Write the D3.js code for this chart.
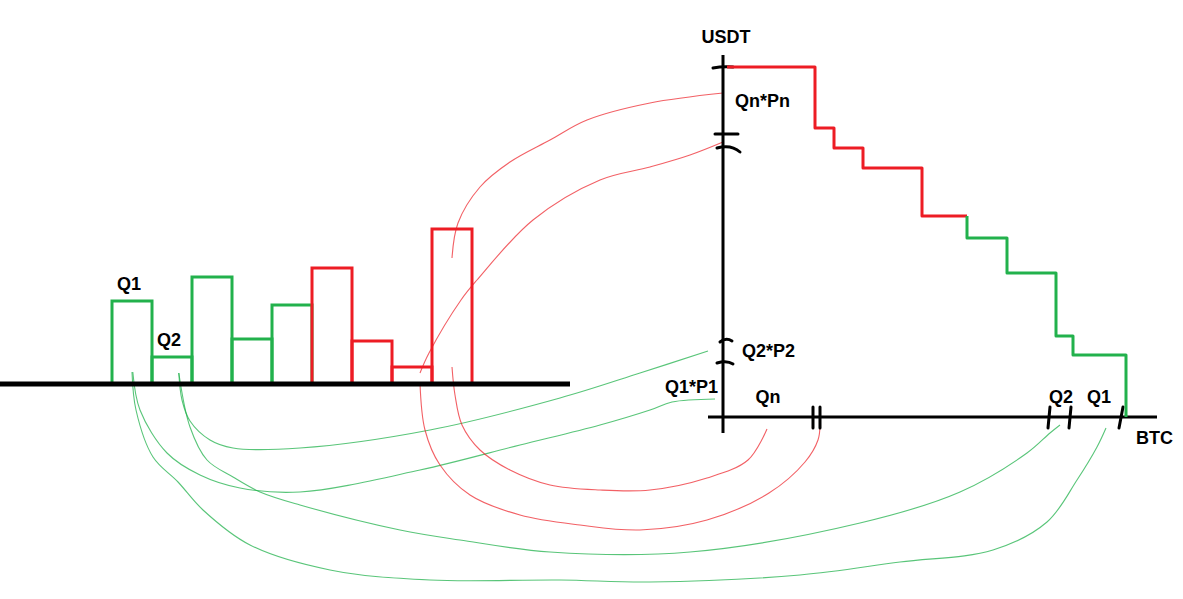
<!DOCTYPE html>
<html>
<head>
<meta charset="utf-8">
<script src="https://cdn.jsdelivr.net/npm/d3@7"></script>
<style>
  html, body { margin: 0; padding: 0; background: #fff; }
  svg { display: block; }
  text {
    font-family: 'Liberation Sans', Arial, sans-serif;
    font-weight: bold;
    font-size: 18px;
    fill: #000;
  }
</style>
</head>
<body>
<div id="chart"></div>
<script>
// --- order book levels (left sketch) ---
const quantities = [8.3, 2.7, 10.7, 4.5, 7.9, 11.6, 4.3, 1.7, 15.5];
const sides = ['bid', 'bid', 'bid', 'bid', 'bid', 'ask', 'ask', 'ask', 'ask'];
const barLabels = ['Q1', 'Q2', '', '', '', '', '', '', 'Qn'];

// --- cumulative BTC / USDT curve (right sketch) ---
const redBtc = [0.04, 0.92, 1.11, 1.40, 1.99, 2.44];
const redUsdt = [350, 289, 269, 249, 201, 201];
const greenBtc = [2.44, 2.44, 2.84, 3.33, 3.50, 4.03];
const greenUsdt = [201, 179, 144, 81, 62, 0];

// axis marks
const usdtTicks = [350, 283, 269, 77, 55];
const btcTicks = [0.90, 0.97, 3.26, 3.47, 3.98];
const usdtLabels = [
  { text: 'Qn*Pn', v: 316 },
  { text: 'Q2*P2', v: 66 },
  { text: 'Q1*P1', v: 30 },
];
const btcLabels = [
  { text: 'Qn', v: 0.45 },
  { text: 'Q2', v: 3.38 },
  { text: 'Q1', v: 3.76 },
];

// links from a bar to the axis mark it becomes
const linkBars = [1, 0, 1, 0, 8, 7, 8, 7];
const linkFrom = [1.1, 1.2, 1.1, 1.2, 12.6, 1.1, 1.7, 0.1];
const linkAxis = ['y', 'y', 'x', 'x', 'y', 'y', 'x', 'x'];
const linkTarget = [66, 18, 3.37, 3.83, 324, 275, 0.44, 0.97];

const colors = { bid: '#22b14c', ask: '#ed1c24' };

const W = 1183, H = 599;

const svg = d3.select('#chart')
  .append('svg')
  .attr('width', W)
  .attr('height', H);

// ---------- left: bars ----------
const xBar = d3.scaleBand()
  .domain(d3.range(quantities.length))
  .range([112, 472])
  .paddingInner(0);

const yBar = d3.scaleLinear().domain([0, 10]).range([384, 284]);

// hand-drawn routes for the thin connector strokes
const linkRoutes = [
  [[182, 400], [190, 421], [210, 440], [233, 448], [300, 448], [430, 430], [560, 398], [640, 373]],
  [[140, 410], [167, 453], [200, 475], [240, 488], [300, 492], [420, 470], [520, 445], [600, 425], [650, 410], [672, 402]],
  [[190, 427], [207, 460], [233, 477], [260, 492], [300, 505], [400, 530], [460, 540], [550, 552], [690, 552], [860, 523], [960, 492], [1027, 453], [1050, 433]],
  [[136, 410], [153, 457], [178, 482], [203, 510], [250, 545], [330, 570], [430, 580], [560, 580], [650, 582], [800, 575], [900, 562], [993, 550], [1047, 522], [1077, 480], [1097, 447]],
  [[458, 223], [480, 187], [510, 162], [550, 140], [587, 120], [650, 103]],
  [[429, 353], [461, 300], [477, 280], [533, 220], [600, 180], [650, 167], [690, 155]],
  [[455, 395], [462, 425], [480, 450], [510, 470], [550, 485], [600, 490], [650, 490], [707, 478], [748, 460]],
  [[425, 430], [440, 465], [470, 495], [520, 515], [580, 525], [640, 530], [707, 520], [769, 493], [805, 462], [818, 440]],
];
const linkEndOffset = [[-15, 0], [-8, 0], [0, 8], [0, 11], [0, 0], [0, 0], [0, 12], [0, 8]];
const linkStartFrac = [0.67, 0.52, 0.67, 0.5, 0.5, 0.7, 0.5, 0.7];

// ---------- right: cumulative curve ----------
const xBtc = d3.scaleLinear().domain([0, 4.3]).range([723, 1153]);
const yUsdt = d3.scaleLinear().domain([0, 350]).range([417, 67]);

// connectors (drawn first, underneath)
const linkLine = d3.line().curve(d3.curveCatmullRom.alpha(0.5));
linkBars.forEach((b, i) => {
  const start = [xBar(b) + xBar.bandwidth() * linkStartFrac[i], yBar(linkFrom[i])];
  const end = linkAxis[i] === 'y'
    ? [xBtc(0) + linkEndOffset[i][0], yUsdt(linkTarget[i])]
    : [xBtc(linkTarget[i]), yUsdt(0) + linkEndOffset[i][1]];
  svg.append('path')
    .attr('d', linkLine([start, ...linkRoutes[i], end]))
    .attr('fill', 'none')
    .attr('stroke', colors[sides[b]])
    .attr('stroke-opacity', sides[b] === 'bid' ? 0.75 : 0.7)
    .attr('stroke-width', 1.1);
});

// bars
svg.selectAll('rect.bar')
  .data(quantities)
  .enter()
  .append('rect')
  .attr('class', 'bar')
  .attr('x', (d, i) => xBar(i))
  .attr('y', (d) => yBar(d))
  .attr('width', xBar.bandwidth())
  .attr('height', (d) => yBar(0) - yBar(d))
  .attr('fill', 'none')
  .attr('stroke', (d, i) => colors[sides[i]])
  .attr('stroke-width', 3);

// baseline
svg.append('line')
  .attr('x1', 0).attr('x2', 570)
  .attr('y1', yBar(0)).attr('y2', yBar(0))
  .attr('stroke', '#000')
  .attr('stroke-width', 5);

svg.selectAll('text.barlabel')
  .data(quantities)
  .enter()
  .filter((d, i) => barLabels[i] !== '')
  .append('text')
  .attr('class', 'barlabel')
  .attr('x', (d, i) => xBar(i) + xBar.bandwidth() / 2 - 3)
  .attr('y', (d) => yBar(d) - 11)
  .attr('text-anchor', 'middle')
  .text((d, i) => barLabels[i]);

// axes
svg.append('line')
  .attr('x1', xBtc(0)).attr('x2', xBtc(0))
  .attr('y1', 55).attr('y2', 433)
  .attr('stroke', '#000').attr('stroke-width', 3);
svg.append('line')
  .attr('x1', 708).attr('x2', 1157)
  .attr('y1', yUsdt(0)).attr('y2', yUsdt(0))
  .attr('stroke', '#000').attr('stroke-width', 3);

// usdt tick marks: flat strokes and small brackets
const usdtTickPaths = [
  'M-10,1 Q0,-1 10,0',
  'M-8,0 L15,0',
  'M-6,0 Q8,-4 17,4',
  'M-3,2 Q3,-3 9,1',
  'M-6,1 Q4,-2 10,2',
];
usdtTicks.forEach((v, i) => {
  svg.append('path')
    .attr('transform', `translate(${xBtc(0)},${yUsdt(v)})`)
    .attr('d', usdtTickPaths[i])
    .attr('fill', 'none')
    .attr('stroke', '#000')
    .attr('stroke-width', 3)
    .attr('stroke-linecap', 'round');
});

// btc tick marks: slightly slanted strokes
const btcTickLean = [0, 0, 2, 2, 4];
btcTicks.forEach((v, i) => {
  const x = xBtc(v);
  svg.append('line')
    .attr('x1', x + btcTickLean[i] / 2).attr('y1', yUsdt(0) - 10)
    .attr('x2', x - btcTickLean[i] / 2).attr('y2', yUsdt(0) + 11)
    .attr('stroke', '#000')
    .attr('stroke-width', 3)
    .attr('stroke-linecap', 'round');
});

// step curve
const stepLine = d3.line().curve(d3.curveStepAfter);
const redPts = redBtc.map((b, i) => [xBtc(b), yUsdt(redUsdt[i])]);
const greenPts = greenBtc.map((b, i) => [xBtc(b), yUsdt(greenUsdt[i])]);

svg.append('path')
  .attr('d', stepLine(redPts))
  .attr('fill', 'none')
  .attr('stroke', colors.ask)
  .attr('stroke-width', 3)
  .attr('stroke-linejoin', 'round');
svg.append('path')
  .attr('d', stepLine(greenPts))
  .attr('fill', 'none')
  .attr('stroke', colors.bid)
  .attr('stroke-width', 3)
  .attr('stroke-linejoin', 'round');

// labels
svg.append('text')
  .attr('x', xBtc(0) + 3).attr('y', 43)
  .attr('text-anchor', 'middle')
  .text('USDT');
svg.append('text')
  .attr('x', 1136).attr('y', yUsdt(0) + 27)
  .text('BTC');

usdtLabels.forEach((d) => {
  const left = d.text === 'Q1*P1';
  svg.append('text')
    .attr('x', left ? xBtc(0) - 5 : xBtc(0) + (d.text === 'Qn*Pn' ? 12 : 19))
    .attr('y', yUsdt(d.v) + 6)
    .attr('text-anchor', left ? 'end' : 'start')
    .text(d.text);
});

btcLabels.forEach((d) => {
  svg.append('text')
    .attr('x', xBtc(d.v))
    .attr('y', yUsdt(0) - 14)
    .attr('text-anchor', 'middle')
    .text(d.text);
});
</script>
</body>
</html>
